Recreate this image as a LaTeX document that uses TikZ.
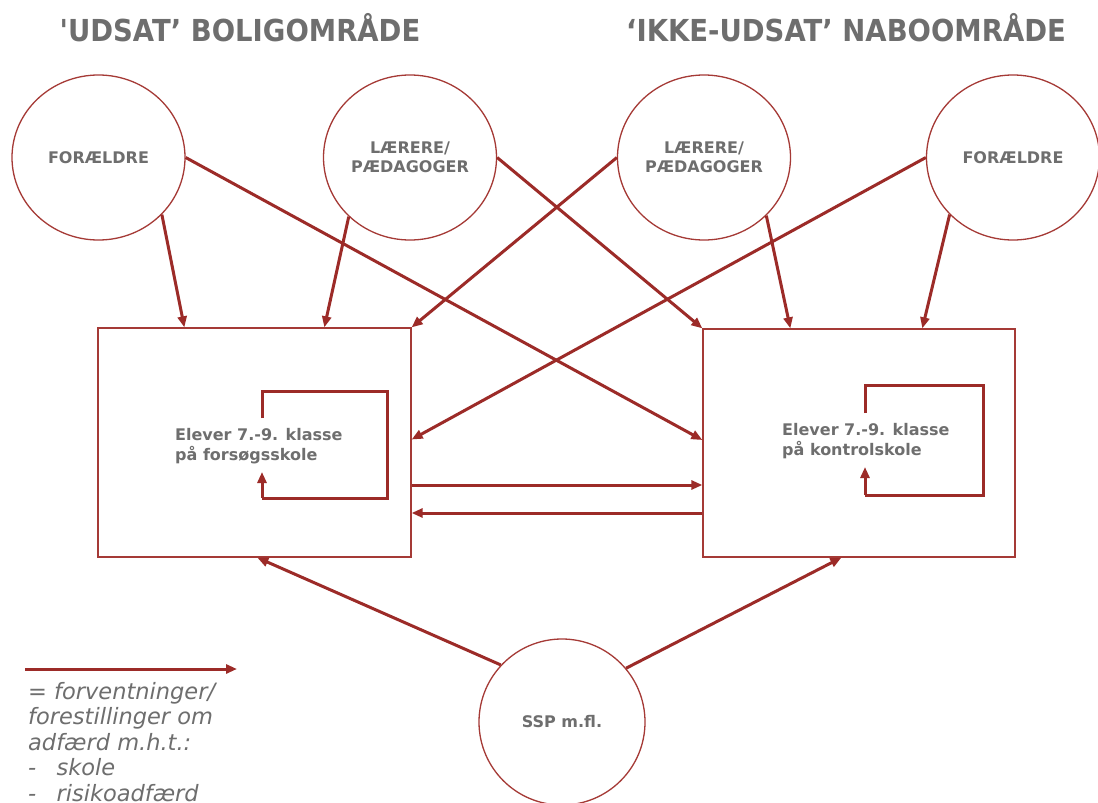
\documentclass[tikz,border=0pt]{standalone}
\usepackage{fontspec}
\usetikzlibrary{shapes.geometric,arrows.meta,calc}
\newfontfamily\dvs{DejaVu Sans}
\definecolor{dred}{HTML}{9C2B28}
\definecolor{ored}{HTML}{A53A36}
\definecolor{tgray}{HTML}{6E6E6E}
\begin{document}
\begin{tikzpicture}[x=1pt,y=-1pt,
  circ/.style={ellipse,draw=ored,line width=1.3pt,fill=white,inner sep=0pt,
    minimum width=173pt,minimum height=165pt,
    font=\dvs\bfseries\fontsize{16}{19.5}\selectfont,text=tgray,align=center},
  boxnode/.style={rectangle,draw=ored,line width=1.3pt,inner sep=0pt},
  boxtext/.style={font=\dvs\bfseries\fontsize{16}{20.5}\selectfont,text=tgray,align=left,inner sep=0pt},
  title/.style={font=\dvs\bfseries\fontsize{27.5}{30}\selectfont,text=tgray,inner sep=0pt},
  rel/.style={draw=dred,line width=3pt,-{Triangle[length=11pt,width=9pt]}},
  loopline/.style={draw=dred,line width=3pt}
]
\useasboundingbox (0,0) rectangle (1098,803);
\fill[white] (0,0) rectangle (1098,803);

% titles
\node[title,yscale=1.1] (t1) at (240,28) {'UDSAT’ BOLIGOMRÅDE};
\node[title,yscale=1.1] (t2) at (846,28) {‘IKKE-UDSAT’ NABOOMRÅDE};

% boxes
\node[boxnode,minimum width=313pt,minimum height=229pt] (b1) at (254.5,442.5) {};
\node[boxnode,minimum width=312pt,minimum height=228pt] (b2) at (859,443) {};

% circles
\node[circ] (f1) at (98.5,157.5) {FORÆLDRE};
\node[circ] (l1) at (410,157.5) {LÆRERE/\\PÆDAGOGER};
\node[circ] (l2) at (704,157.5) {LÆRERE/\\PÆDAGOGER};
\node[circ] (f2) at (1013,157.5) {FORÆLDRE};
\node[circ,minimum width=166pt,minimum height=166pt] (ssp) at (562,722) {SSP m.fl.};

% box texts
\node[boxtext,anchor=west] (e1) at (175,446) {Elever 7.-9. klasse\\på forsøgsskole};
\node[boxtext,anchor=west] (e2) at (782,441) {Elever 7.-9. klasse\\på kontrolskole};

% self loops
\draw[loopline] (262,418) |- (387,391) |- (262,498);
\draw[rel] (262,498) -- (262,472);
\draw[loopline] (865,413) |- (983,385) |- (865,495);
\draw[rel] (865,495) -- (865,467);

% relations from top circles
\draw[rel] (f1.-42.6) -- ($(b1.north west)+(87,0)$);
\draw[rel] (f1.0) -- ([yshift=3pt]b2.west);
\draw[rel] (l1.224) -- ($(b1.north west)+(227,0)$);
\draw[rel] (l1.0) -- (b2.north west);
\draw[rel] (l2.180) -- (b1.north east);
\draw[rel] (l2.-43) -- ($(b2.north west)+(88,0)$);
\draw[rel] (f2.180) -- ([yshift=3pt]b1.east);
\draw[rel] (f2.222) -- ($(b2.north west)+(220,0)$);

% between boxes
\draw[rel] ([yshift=-42.5pt]b1.east) -- ([yshift=-42pt]b2.west);
\draw[rel] ([yshift=-70pt]b2.west) -- ([yshift=-70.5pt]b1.east);

% SSP
\draw[rel] (ssp.137) -- ($(b1.south west)+(160,0)$);
\draw[rel] (ssp.40) -- ($(b2.south west)+(139,0)$);

% legend
\coordinate (legA) at (25,669);
\coordinate (legB) at (237,669);
\draw[rel] (legA) -- (legB);
\node[anchor=north west,inner sep=0pt,text=tgray,
  font=\dvs\itshape\fontsize{22.5}{25.5}\selectfont,align=left] (leg) at (28,682)
  {= forventninger/\\forestillinger om\\adfærd m.h.t.:\\-\hspace{0.9em}skole\\-\hspace{0.9em}risikoadfærd};
\end{tikzpicture}
\end{document}
